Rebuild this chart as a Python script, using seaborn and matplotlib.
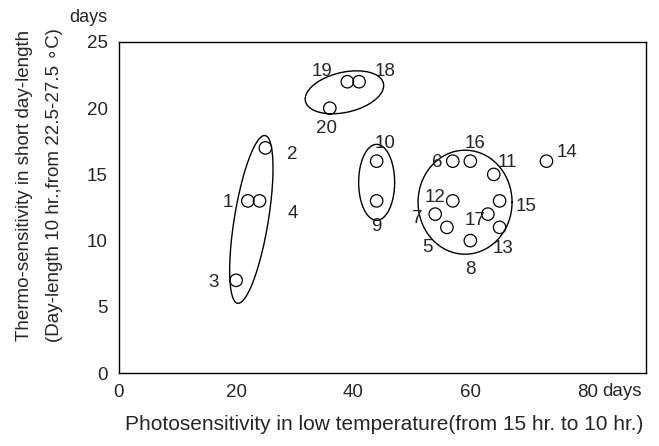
import numpy as np
import pandas as pd
import matplotlib
matplotlib.use("Agg")
import matplotlib.pyplot as plt
import seaborn as sns

# -----------------------------
# DATA
# -----------------------------
line_ids = [str(i) for i in range(1, 21)]
photo_days = [22, 25, 20, 24, 56, 57, 54, 60, 44, 44, 64, 57, 65, 73, 65, 60, 63, 41, 39, 36]
thermo_days = [13, 17, 7, 13, 11, 16, 12, 10, 13, 16, 15, 13, 11, 16, 13, 16, 12, 22, 22, 20]

# label offsets from each circle, in pixels (x right, y up)
label_dx = [-20, 27, -23, 33, -19, -16, -18, 0, 0, 8, 14, -18, 3, 21, 26, 5, -13, 26, -25, -3]
label_dy = [-2, -7, -2, -13, -20, -1, -4, -29, -26, 18, 12, 3, -21, 9, -6, 18, -6, 10, 10, -20]

# hand-drawn group outlines: centre (data), semi-axes (px), angle (deg)
group_center_x = [22.6, 38.5, 44.0, 59.1]
group_center_y = [11.6, 21.2, 14.4, 12.9]
group_semi_a = [85, 40, 18, 47]
group_semi_b = [17, 20, 38, 52]
group_angle = [80.7, 13, 0, 0]

x_ticks = [0, 20, 40, 60, 80]
y_ticks = [0, 5, 10, 15, 20, 25]

df = pd.DataFrame({"line": line_ids, "photo": photo_days, "thermo": thermo_days})

# -----------------------------
# STYLE
# -----------------------------
sns.set_theme(style="white")
plt.rcParams["font.family"] = ["Liberation Sans", "DejaVu Sans"]

fig = plt.figure(figsize=(6.59, 4.46), dpi=100)
ax = fig.add_axes([119 / 659, 73 / 446, 527 / 659, 331 / 446])

sns.scatterplot(data=df, x="photo", y="thermo", ax=ax, marker="o",
                facecolor="none", edgecolor="black", s=80, linewidth=0.9,
                legend=False, zorder=3)

ax.set_xlim(0, 90)
ax.set_ylim(0, 25)
ax.set_xticks(x_ticks)
ax.set_yticks(y_ticks)
ax.set_xticklabels([str(t) for t in x_ticks], fontsize=13.5)
ax.set_yticklabels([str(t) for t in y_ticks], fontsize=13.5)
ax.tick_params(length=0, pad=8)
ax.set_xlabel("")
ax.set_ylabel("")
for sp in ax.spines.values():
    sp.set_color("black")
    sp.set_linewidth(1.0)

# point labels
for lid, x, y, dx, dy in zip(line_ids, photo_days, thermo_days, label_dx, label_dy):
    ax.annotate(lid, (x, y), xytext=(dx, dy), textcoords="offset pixels",
                ha="center", va="center", fontsize=13.5)

# group outlines, drawn as ellipses in screen space then mapped to data
t = np.linspace(0, 2 * np.pi, 200)
for cx, cy, a, b, ang in zip(group_center_x, group_center_y, group_semi_a, group_semi_b, group_angle):
    px, py = ax.transData.transform((cx, cy))
    th = np.deg2rad(ang)
    ex = px + a * np.cos(t) * np.cos(th) - b * np.sin(t) * np.sin(th)
    ey = py + a * np.cos(t) * np.sin(th) + b * np.sin(t) * np.cos(th)
    pts = ax.transData.inverted().transform(np.column_stack([ex, ey]))
    ax.plot(pts[:, 0], pts[:, 1], color="black", lw=1.0, zorder=2)

# units
ax.annotate("days", (80, 0), xytext=(35, -19), textcoords="offset pixels",
            ha="center", va="center", fontsize=13.5, annotation_clip=False)
fig.text(88 / 659, 1 - 18 / 446, "days", ha="center", va="center", fontsize=13)

# axis titles
fig.text(384 / 659, 1 - 425 / 446,
         "Photosensitivity in low temperature(from 15 hr. to 10 hr.)",
         ha="center", va="center", fontsize=15)
fig.text(25 / 659, 1 - 185 / 446, "Thermo-sensitivity in short day-length",
         rotation=90, ha="center", va="center", fontsize=13.5)
fig.text(55 / 659, 1 - 185 / 446, "(Day-length 10 hr.,from 22.5-27.5 \u2218C)",
         rotation=90, ha="center", va="center", fontsize=13.5)

fig.savefig("out.png", dpi=100)
